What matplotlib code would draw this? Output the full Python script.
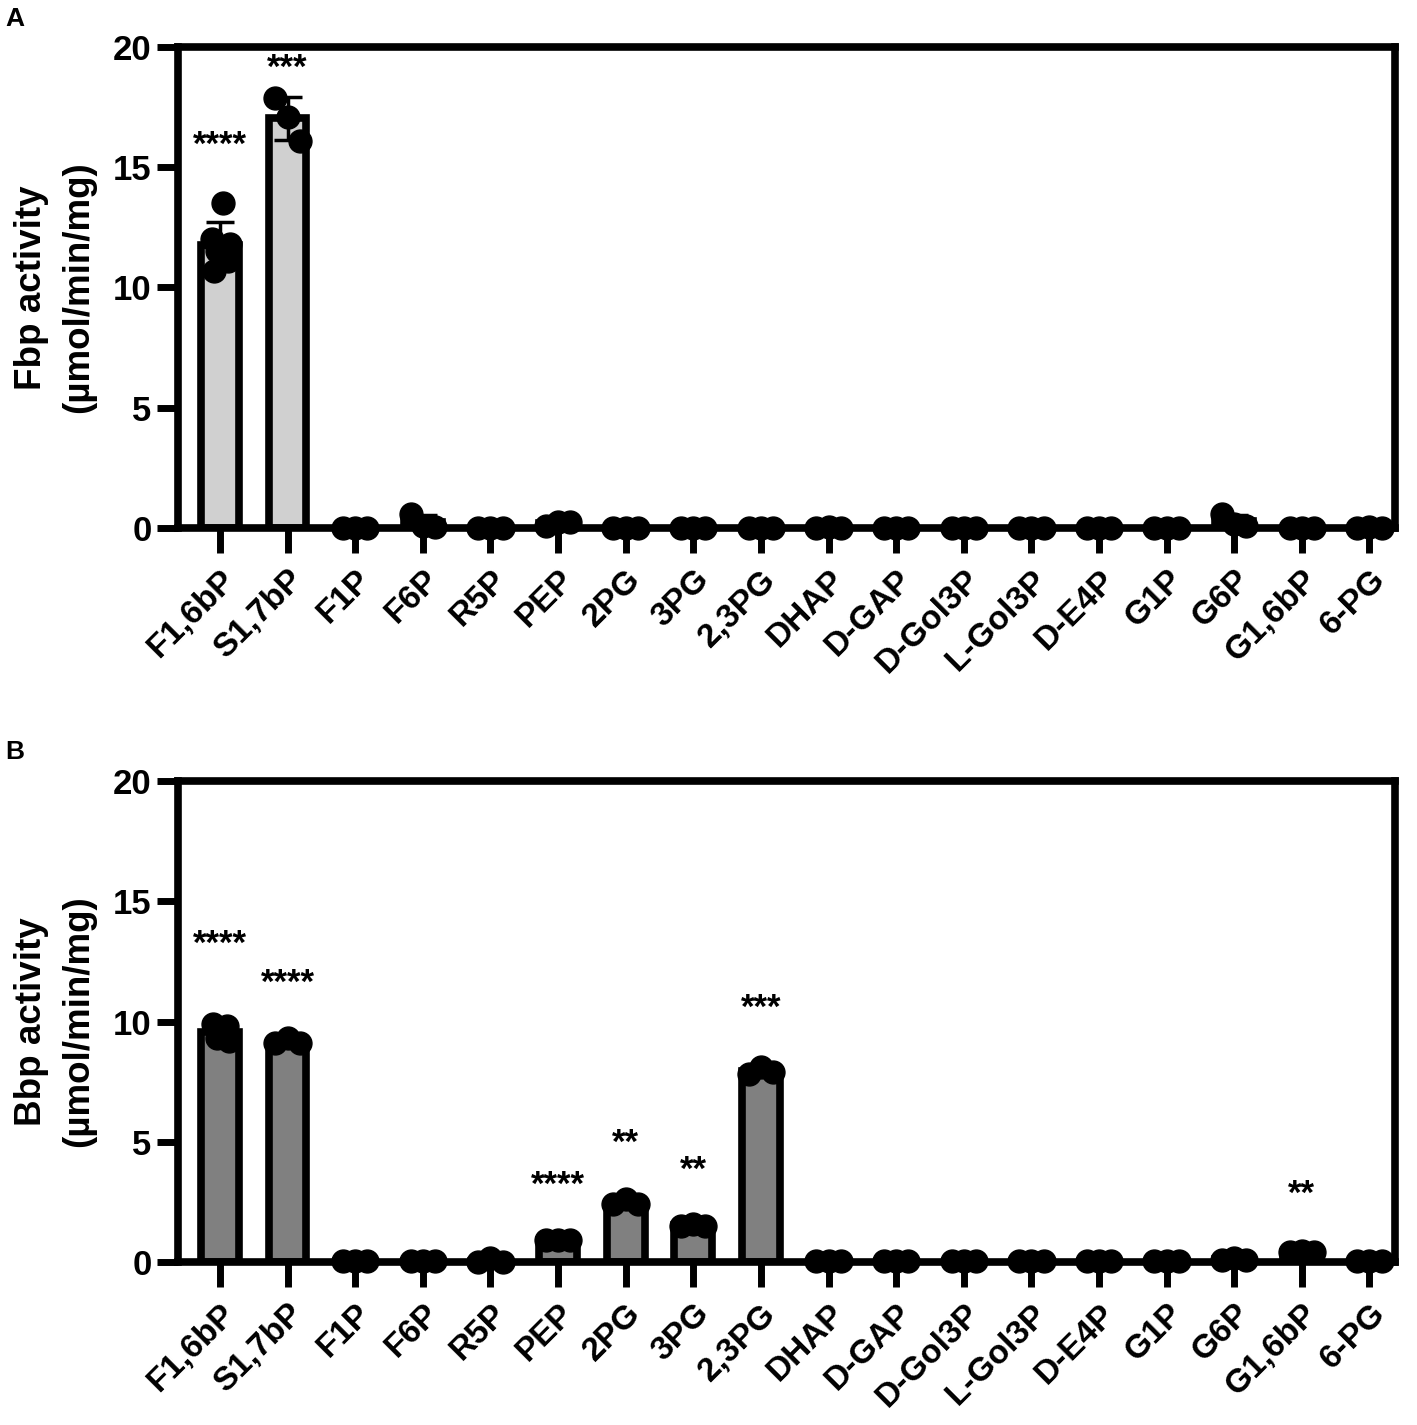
import matplotlib
matplotlib.use("Agg")
import matplotlib.pyplot as plt
import numpy as np

plt.rcParams['font.family'] = ['Liberation Sans', 'DejaVu Sans']
plt.rcParams['font.weight'] = 'bold'

categories = ["F1,6bP", "S1,7bP", "F1P", "F6P", "R5P", "PEP", "2PG", "3PG", "2,3PG",
              "DHAP", "D-GAP", "D-Gol3P", "L-Gol3P", "D-E4P", "G1P", "G6P", "G1,6bP", "6-PG"]

fbp_points = [
    [13.5, 12.0, 11.8, 11.5, 11.1, 10.7],
    [17.9, 17.1, 16.1],
    [0.0, 0.0, 0.0],
    [0.6, 0.1, 0.05],
    [0.0, 0.0, 0.0],
    [0.1, 0.25, 0.25],
    [0.0, 0.0, 0.0],
    [0.0, 0.0, 0.0],
    [0.0, 0.0, 0.0],
    [0.0, 0.05, 0.0],
    [0.0, 0.0, 0.0],
    [0.0, 0.0, 0.0],
    [0.0, 0.0, 0.0],
    [0.0, 0.0, 0.0],
    [0.0, 0.0, 0.0],
    [0.6, 0.15, 0.1],
    [0.0, 0.0, 0.0],
    [0.0, 0.05, 0.0],
]
bbp_points = [
    [9.9, 9.8, 9.3, 9.2],
    [9.1, 9.3, 9.1],
    [0.05, 0.05, 0.05],
    [0.05, 0.05, 0.05],
    [0.0, 0.15, 0.0],
    [0.9, 0.9, 0.9],
    [2.4, 2.6, 2.4],
    [1.5, 1.6, 1.5],
    [7.8, 8.1, 7.9],
    [0.05, 0.05, 0.05],
    [0.05, 0.05, 0.05],
    [0.05, 0.05, 0.05],
    [0.05, 0.05, 0.05],
    [0.05, 0.05, 0.05],
    [0.05, 0.05, 0.05],
    [0.1, 0.15, 0.1],
    [0.4, 0.45, 0.4],
    [0.05, 0.05, 0.05],
]
fbp_star_labels = ["****", "***"]
fbp_star_cats = ["F1,6bP", "S1,7bP"]
fbp_star_y = [15.9, 19.1]
bbp_star_labels = ["****", "****", "****", "**", "**", "***", "**"]
bbp_star_cats = ["F1,6bP", "S1,7bP", "PEP", "2PG", "3PG", "2,3PG", "G1,6bP"]
bbp_star_y = [13.2, 11.6, 3.2, 4.95, 3.8, 10.55, 2.8]

fig = plt.figure(figsize=(14.17, 14.25), dpi=100)

def jitter(n):
    if n == 3:
        return np.array([-0.18, 0.0, 0.18])
    if n == 4:
        return np.array([-0.1, 0.1, -0.05, 0.14])
    return np.array([0.05, -0.12, 0.15, -0.05, 0.12, -0.08])

def panel(rect, points, star_labels, star_cats, star_y, color, ylabel, letter, letter_y):
    ax = fig.add_axes(rect)
    n = len(categories)
    x = np.arange(n)
    means = [np.mean(p) for p in points]
    sds = [np.std(p, ddof=1) for p in points]
    ax.bar(x, means, width=0.56, color=color, edgecolor='black', linewidth=5.5, zorder=2)
    ax.errorbar(x, means, yerr=sds, fmt='none', ecolor='black', elinewidth=2.5,
                capsize=10, capthick=2.5, zorder=3)
    for i, p in enumerate(points):
        xs = x[i] + jitter(len(p))
        ax.plot(xs, p, 'o', color='black', markersize=16.5, zorder=4, clip_on=False)
    for s, c, yy in zip(star_labels, star_cats, star_y):
        i = categories.index(c)
        ax.text(x[i], yy, s, ha='center', va='center', fontsize=25, fontweight='bold')
    ax.set_xlim(-0.62, n - 0.62)
    ax.set_ylim(0, 20)
    ax.set_yticks([0, 5, 10, 15, 20])
    ax.set_xticks(x)
    ax.set_xticklabels(categories, rotation=45, ha='right', rotation_mode='anchor')
    ax.tick_params(axis='x', length=18, width=5, labelsize=24, pad=8)
    ax.tick_params(axis='y', length=15, width=5, labelsize=25, pad=4)
    for lab in ax.get_xticklabels() + ax.get_yticklabels():
        lab.set_fontweight('bold')
    for sp in ax.spines.values():
        sp.set_linewidth(5.5)
    ax.set_ylabel(ylabel, fontsize=26.5, fontweight='bold', labelpad=12, linespacing=1.45)
    fig.text(0.004, letter_y, letter, fontsize=19, fontweight='bold', va='center')
    return ax

panel([0.1256, 0.6295, 0.859, 0.3375], fbp_points, fbp_star_labels, fbp_star_cats,
      fbp_star_y, '#d0d0d0', 'Fbp activity\n(µmol/min/mg)', 'A', 0.987)
panel([0.1256, 0.1144, 0.859, 0.3375], bbp_points, bbp_star_labels, bbp_star_cats,
      bbp_star_y, '#808080', 'Bbp activity\n(µmol/min/mg)', 'B', 0.472)

fig.savefig('out.png', dpi=100)
